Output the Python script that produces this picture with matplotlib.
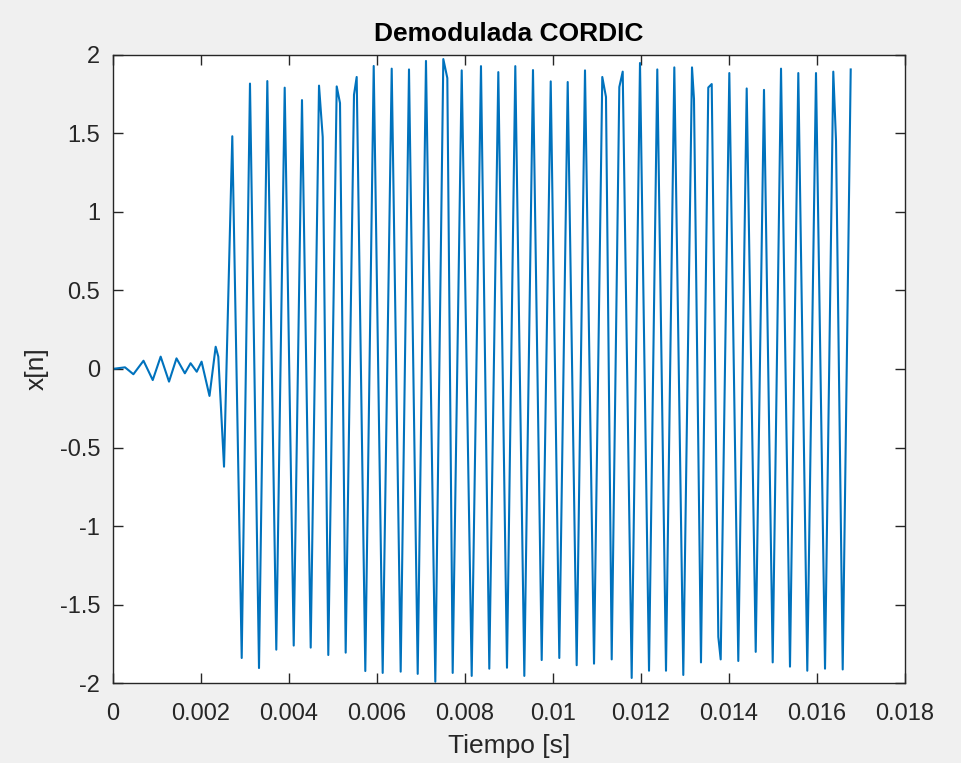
import matplotlib
matplotlib.use("Agg")
import matplotlib.pyplot as plt
from matplotlib.ticker import FuncFormatter

# ── Data ─────────────────────────────────────────────────────────────────────
# start-up transient
t_start = [0.0, 0.00028, 0.00047, 0.00070, 0.00091, 0.00109, 0.00128, 0.00145,
           0.00164, 0.00177, 0.00191, 0.00202, 0.00220, 0.00234, 0.00240, 0.00253]
x_start = [0.0, 0.01, -0.034, 0.052, -0.071, 0.078, -0.081, 0.067,
           -0.028, 0.036, -0.018, 0.046, -0.172, 0.141, 0.078, -0.622]

# steady oscillation (extrema plus a few visible kinks)
t_osc = [0.002718, 0.002932, 0.003120, 0.003325, 0.003514, 0.003718, 0.003909,
         0.004114, 0.004302, 0.004500, 0.004689, 0.004773, 0.004900, 0.005091,
         0.005166, 0.005295, 0.005484, 0.005545, 0.005741, 0.005932, 0.006136,
         0.006341, 0.006545, 0.006734, 0.006932, 0.007120, 0.007332, 0.007514,
         0.007605, 0.007727, 0.007932, 0.008159, 0.008370, 0.008559, 0.008764,
         0.008961, 0.009150, 0.009355, 0.009552, 0.009750, 0.009955, 0.010150,
         0.010341, 0.010545, 0.010734, 0.010939, 0.011127, 0.011211, 0.011341,
         0.011514, 0.011591, 0.011795, 0.011984, 0.012189, 0.012377, 0.012575,
         0.012764, 0.012968, 0.013166, 0.013211, 0.013370, 0.013536, 0.013614,
         0.013764, 0.013818, 0.014014, 0.014218, 0.014409, 0.014614, 0.014802,
         0.015000, 0.015189, 0.015393, 0.015582, 0.015786, 0.015984, 0.016189,
         0.016377, 0.016439, 0.016591, 0.016773]
x_osc = [1.48, -1.839, 1.815, -1.903, 1.831, -1.786, 1.789,
         -1.760, 1.710, -1.773, 1.802, 1.475, -1.820, 1.797,
         1.691, -1.805, 1.744, 1.857, -1.922, 1.927, -1.934,
         1.910, -1.926, 1.905, -1.940, 1.959, -1.99, 1.971,
         1.850, -1.934, 1.899, -1.953, 1.926, -1.907, 1.888,
         -1.901, 1.926, -1.953, 1.901, -1.852, 1.829, -1.839,
         1.825, -1.885, 1.899, -1.875, 1.857, 1.730, -1.848,
         1.793, 1.891, -1.966, 1.946, -1.920, 1.905, -1.920,
         1.918, -1.947, 1.918, 1.717, -1.867, 1.790, 1.812,
         -1.705, -1.848, 1.882, -1.858, 1.784, -1.800, 1.775,
         -1.867, 1.910, -1.894, 1.882, -1.920, 1.882, -1.907,
         1.891, 1.450, -1.912, 1.905]

x_ticks = [0, 0.002, 0.004, 0.006, 0.008, 0.01, 0.012, 0.014, 0.016, 0.018]
y_ticks = [-2, -1.5, -1, -0.5, 0, 0.5, 1, 1.5, 2]

# ── Style ────────────────────────────────────────────────────────────────────
DARK = "#262626"
plt.rcParams["font.family"] = ["Liberation Sans", "DejaVu Sans"]
plt.rcParams["axes.unicode_minus"] = False


def main() -> None:
    fig = plt.figure(figsize=(9.62, 7.63), dpi=100, facecolor="#f0f0f0")
    ax = fig.add_axes([112.7 / 962, 1 - 683.3 / 763, 792 / 962, 628.8 / 763])

    ax.plot(t_start + t_osc, x_start + x_osc, color="#0072BD", lw=1.5,
            solid_joinstyle="round")

    ax.set_xlim(0, 0.018)
    ax.set_ylim(-2, 2)
    ax.set_xticks(x_ticks)
    ax.set_yticks(y_ticks)
    fmt = FuncFormatter(lambda v, _: f"{v:g}")
    ax.xaxis.set_major_formatter(fmt)
    ax.yaxis.set_major_formatter(fmt)

    ax.tick_params(direction="in", length=7, width=1, colors=DARK,
                   labelsize=17, top=True, right=True, pad=9)
    ax.tick_params(axis="x", pad=14)
    for s in ax.spines.values():
        s.set_color(DARK)
        s.set_linewidth(1)

    ax.set_title("Demodulada CORDIC", fontsize=19, fontweight="bold",
                 color="black", pad=10)
    ax.set_xlabel("Tiempo [s]", fontsize=19, color=DARK, labelpad=7)
    ax.set_ylabel("x[n]", fontsize=19, color=DARK, labelpad=8)

    fig.savefig("out.png", dpi=100, facecolor=fig.get_facecolor())


if __name__ == "__main__":
    main()
